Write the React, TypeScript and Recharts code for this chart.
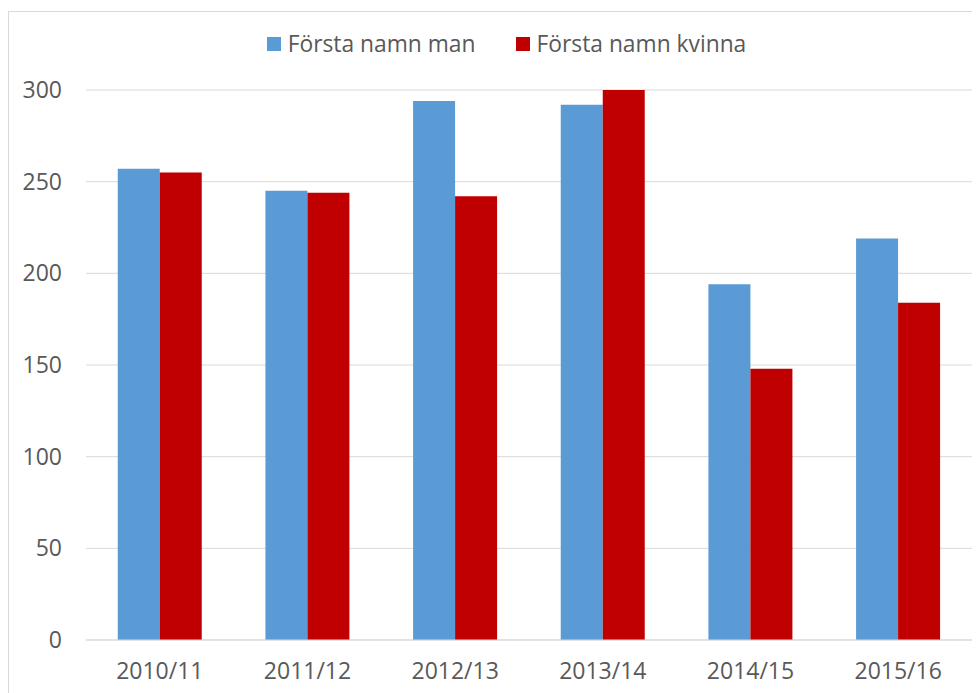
import React from "react";
import { BarChart, Bar, XAxis, YAxis, CartesianGrid, Legend } from "recharts";

const categories = ["2010/11", "2011/12", "2012/13", "2013/14", "2014/15", "2015/16"];
const manValues = [257, 245, 294, 292, 194, 219];
const kvinnaValues = [255, 244, 242, 300, 148, 184];
const yTicks = [0, 50, 100, 150, 200, 250, 300];
const seriesNames = ["Första namn man", "Första namn kvinna"];
const seriesColors = ["#5B9BD5", "#C00000"];

const data = categories.map((c, i) => ({ year: c, man: manValues[i], kvinna: kvinnaValues[i] }));

const FONT = "'Open Sans', sans-serif";
const TEXT = "#595959";
const FS = 23;

function LegendContent() {
  return (
    <div style={{ display: "flex", justifyContent: "center", alignItems: "center", fontFamily: FONT, fontSize: 22.8, color: TEXT, height: 30, lineHeight: "30px", paddingLeft: 24 }}>
      {seriesNames.map((name, i) => (
        <div key={name} style={{ display: "flex", alignItems: "center", marginLeft: i === 0 ? 0 : 40 }}>
          <span style={{ width: 14, height: 14, background: seriesColors[i], display: "inline-block", marginRight: 7 }} />
          <span>{name}</span>
        </div>
      ))}
    </div>
  );
}

export default function App() {
  return (
    <div style={{ marginTop: 3, width: 971, height: 682, borderLeft: "1px solid #D9D9D9", borderTop: "1px solid #D9D9D9", background: "#fff" }}>
      <BarChart
        width={971}
        height={681}
        data={data}
        margin={{ top: 48, right: 8, left: 0, bottom: 23 }}
        barCategoryGap="21.5%"
        barGap={0}
      >
        <CartesianGrid vertical={false} stroke="#D9D9D9" />
        <XAxis
          dataKey="year"
          tickLine={false}
          axisLine={{ stroke: "#D9D9D9" }}
          tickSize={0}
          tickMargin={23}
          tick={{ fill: TEXT, fontSize: FS, fontFamily: FONT }}
        />
        <YAxis
          domain={[0, 300]}
          ticks={yTicks}
          width={77}
          tickLine={false}
          axisLine={false}
          tickSize={0}
          tickMargin={24}
          tick={{ fill: TEXT, fontSize: FS, fontFamily: FONT }}
        />
        <Legend
          verticalAlign="top"
          align="center"
          content={<LegendContent />}
          wrapperStyle={{ top: 17, left: 0, width: 971 }}
        />
        <Bar dataKey="man" name={seriesNames[0]} fill={seriesColors[0]} isAnimationActive={false} />
        <Bar dataKey="kvinna" name={seriesNames[1]} fill={seriesColors[1]} isAnimationActive={false} />
      </BarChart>
    </div>
  );
}
